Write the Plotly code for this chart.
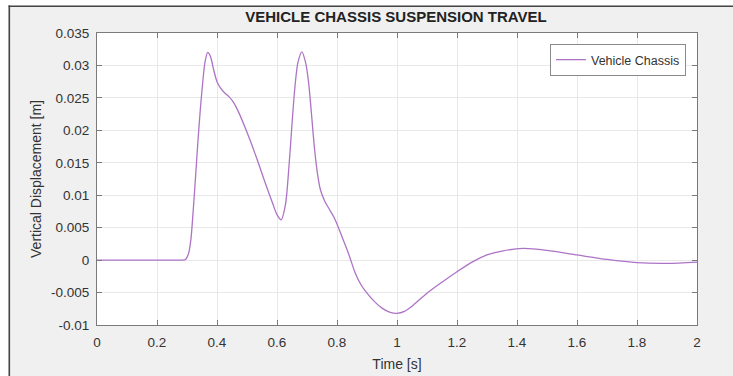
import plotly.graph_objects as go

# Data
time_s = [0.0, 0.1, 0.2, 0.28, 0.295, 0.305, 0.313, 0.320, 0.328, 0.336, 0.344, 0.352, 0.360, 0.369,
          0.378, 0.389, 0.400, 0.412, 0.425, 0.440, 0.455, 0.470, 0.500, 0.530, 0.560, 0.585, 0.600, 0.614,
          0.628, 0.640, 0.650, 0.660, 0.670, 0.683, 0.695, 0.705, 0.715, 0.725, 0.735, 0.745,
          0.760, 0.775, 0.790, 0.805, 0.820, 0.840, 0.860, 0.880, 0.900, 0.925, 0.950, 0.975, 1.0,
          1.025, 1.05, 1.10, 1.15, 1.20, 1.25, 1.30, 1.35, 1.42, 1.50, 1.60, 1.70, 1.80, 1.90, 2.0]
displacement_m = [0.0, 0.0, 0.0, 0.0, 0.0001, 0.0010, 0.0032, 0.0072, 0.0125, 0.0180, 0.0230, 0.0272, 0.0305, 0.0320,
                  0.0314, 0.0293, 0.0275, 0.0265, 0.0258, 0.0252, 0.0243, 0.0230, 0.0197, 0.0160, 0.0120, 0.0088, 0.0070, 0.0062,
                  0.0085, 0.0145, 0.0210, 0.0268, 0.0305, 0.0321, 0.0305, 0.0275, 0.0225, 0.0172, 0.0133, 0.0108,
                  0.0090, 0.0078, 0.0066, 0.0050, 0.0032, 0.0008, -0.0019, -0.0038, -0.0051, -0.0064, -0.0074, -0.0080, -0.0082,
                  -0.0079, -0.0071, -0.0051, -0.0034, -0.0018, -0.0003, 0.0008, 0.0014, 0.0018, 0.0015, 0.0008, 0.0001, -0.0004, -0.0005, -0.0003]

x_ticks = [0, 0.2, 0.4, 0.6, 0.8, 1, 1.2, 1.4, 1.6, 1.8, 2]
x_tick_labels = ["0", "0.2", "0.4", "0.6", "0.8", "1", "1.2", "1.4", "1.6", "1.8", "2"]
y_ticks = [-0.01, -0.005, 0, 0.005, 0.01, 0.015, 0.02, 0.025, 0.03, 0.035]
y_tick_labels = ["-0.01", "-0.005", "0", "0.005", "0.01", "0.015", "0.02", "0.025", "0.03", "0.035"]

W, H = 733, 376
L, R, T, B = 97, 36, 33, 51
PW, PH = W - L - R, H - T - B

def px(xp):
    return (xp - L) / PW

def py(yp):
    return (H - B - yp) / PH

FONT = "Liberation Sans, Arial, sans-serif"
AX = "#7a7a7a"
TXT = "#333333"

fig = go.Figure()
fig.add_trace(go.Scatter(
    x=time_s, y=displacement_m, mode="lines", name="Vehicle Chassis",
    line=dict(color="#ad74c6", width=1.3, shape="spline", smoothing=0.8),
))

axis_common = dict(
    showline=True, linecolor=AX, linewidth=1, mirror="ticks",
    ticks="inside", ticklen=5, tickcolor=AX, tickwidth=1,
    showgrid=True, gridcolor="#e8e8e8", gridwidth=1,
    zeroline=False, automargin=False,
    tickfont=dict(family=FONT, size=13.5, color=TXT),
)

fig.update_xaxes(range=[0, 2], tickvals=x_ticks, ticktext=x_tick_labels,
                 ticklabelstandoff=5,
                 title=dict(text="Time [s]", font=dict(family=FONT, size=14, color=TXT), standoff=9),
                 **axis_common)
fig.update_yaxes(range=[-0.01, 0.035], tickvals=y_ticks, ticktext=y_tick_labels,
                 ticklabelstandoff=4,
                 title=dict(text="Vertical Displacement [m]", font=dict(family=FONT, size=14, color=TXT), standoff=6),
                 **axis_common)

shapes = [
    dict(type="rect", xref="paper", yref="paper", x0=px(0), x1=px(8.5), y0=py(H), y1=py(0),
         fillcolor="white", line=dict(width=0), layer="below"),
    dict(type="rect", xref="paper", yref="paper", x0=px(0), x1=px(W), y0=py(5.5), y1=py(0),
         fillcolor="white", line=dict(width=0), layer="below"),
    dict(type="line", xref="paper", yref="paper", x0=px(9.3), x1=px(9.3), y0=py(H), y1=py(5.5),
         line=dict(color="#444444", width=1.6)),
    dict(type="line", xref="paper", yref="paper", x0=px(8.5), x1=px(W), y0=py(6.3), y1=py(6.3),
         line=dict(color="#444444", width=1.6)),
]

fig.update_layout(
    width=W, height=H,
    margin=dict(l=L, r=R, t=T, b=B),
    paper_bgcolor="#f0f0f0", plot_bgcolor="white",
    title=dict(text="<b>VEHICLE CHASSIS SUSPENSION TRAVEL</b>", xref="container", x=396 / W,
               xanchor="center", yref="container", y=1 - 17 / H, yanchor="middle",
               font=dict(family=FONT, size=15, color="#222222")),
    showlegend=True,
    legend=dict(x=px(686), xanchor="right", y=py(44), yanchor="top",
                bgcolor="white", bordercolor="#8a8a8a", borderwidth=1,
                font=dict(family=FONT, size=12.5, color=TXT),
                itemwidth=30),
    shapes=shapes,
)

fig.write_html("out.html")
